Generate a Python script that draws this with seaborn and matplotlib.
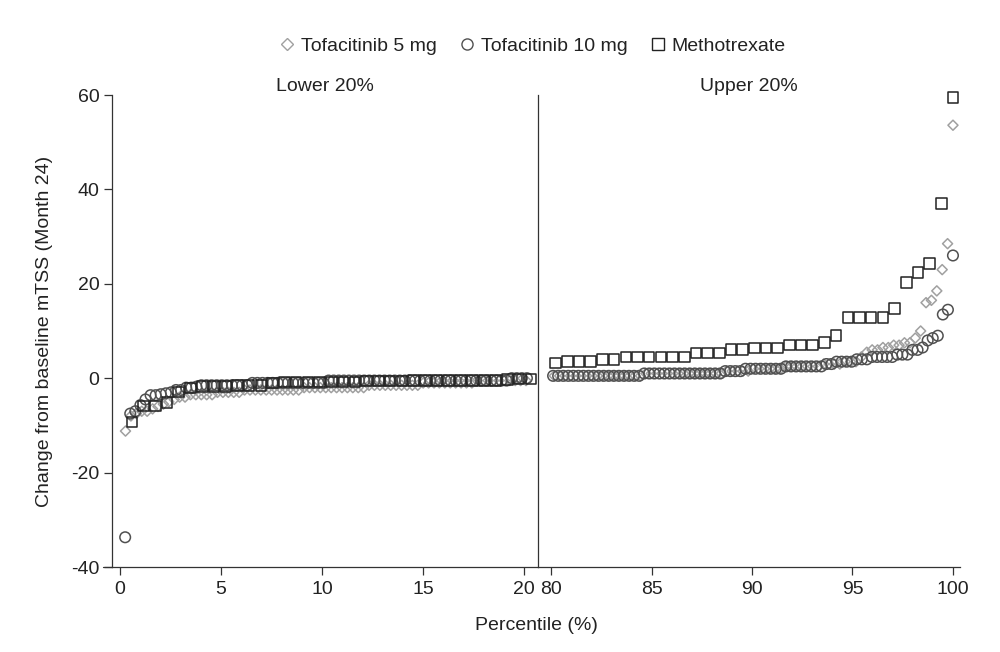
import matplotlib
matplotlib.use("Agg")
import matplotlib.pyplot as plt
import seaborn as sns
import pandas as pd
from matplotlib.lines import Line2D

# ---------------- data ----------------
groups = ["Tofacitinib 5 mg", "Tofacitinib 10 mg", "Methotrexate"]
group_n = [373, 397, 172]          # patients per group (percentile rank base)

lower_tofa5 = [-11.2, -8.0, -7.5, -7.0, -7.0, -6.5, -6.0, -5.5, -5.0, -4.5, -4.0, -4.0,
               -3.5, -3.5, -3.5, -3.5, -3.5, -3.0, -3.0, -3.0, -3.0, -3.0,
               -2.5, -2.5, -2.5, -2.5, -2.5, -2.5, -2.5, -2.5, -2.5, -2.5, -2.5,
               -2.0, -2.0, -2.0, -2.0, -2.0, -2.0, -2.0, -2.0, -2.0, -2.0, -2.0, -2.0,
               -1.5, -1.5, -1.5, -1.5, -1.5, -1.5, -1.5, -1.5, -1.5, -1.5,
               -1.0, -1.0, -1.0, -1.0, -1.0, -1.0, -1.0, -1.0, -1.0, -1.0,
               -0.5, -0.5, -0.5, -0.5, -0.5, -0.5, -0.5, -0.5, -0.5, -0.5]
upper_tofa5 = [0.5, 0.5, 0.5, 0.5, 0.5, 0.5, 0.5, 0.5, 0.5, 0.5, 0.5, 0.5, 0.5, 0.5, 0.5, 0.5, 0.5,
               1.0, 1.0, 1.0, 1.0, 1.0, 1.0, 1.0, 1.0, 1.0, 1.0, 1.0, 1.0, 1.0, 1.0, 1.0,
               1.5, 1.5, 1.5, 1.5, 1.5,
               2.0, 2.0, 2.0, 2.0, 2.0, 2.0,
               2.5, 2.5, 2.5, 2.5, 2.5, 2.5, 2.5,
               3.0, 3.0, 3.0, 3.0,
               3.5, 3.5, 3.5, 4.5,
               5.5, 6.0, 6.0, 6.5, 6.5, 7.0, 7.0, 7.5, 7.5, 8.5, 10.0,
               16.0, 16.5, 18.5, 23.0, 28.5, 53.6]

lower_tofa10 = [-33.7, -7.5, -7.0, -5.7, -4.5, -3.6, -3.6, -3.4, -3.2, -3.0, -2.5, -2.5, -2.0, -2.0, -1.8,
                -1.5, -1.5, -1.5, -1.5, -1.5, -1.5, -1.5, -1.5, -1.5, -1.5,
                -1.0, -1.0, -1.0, -1.0, -1.0, -1.0, -1.0, -1.0, -1.0, -1.0, -1.0, -1.0, -1.0, -1.0, -1.0,
                -0.5, -0.5, -0.5, -0.5, -0.5, -0.5, -0.5, -0.5, -0.5, -0.5, -0.5, -0.5,
                -0.5, -0.5, -0.5, -0.5, -0.5, -0.5, -0.5, -0.5, -0.5, -0.5, -0.5, -0.5,
                -0.5, -0.5, -0.5, -0.5, -0.5, -0.5, -0.5, -0.5, -0.5, -0.5, -0.5, -0.5,
                0.0, 0.0, 0.0, 0.0]
upper_tofa10 = [0.5, 0.5, 0.5, 0.5, 0.5, 0.5, 0.5, 0.5, 0.5, 0.5, 0.5, 0.5, 0.5, 0.5, 0.5, 0.5, 0.5, 0.5,
                1.0, 1.0, 1.0, 1.0, 1.0, 1.0, 1.0, 1.0, 1.0, 1.0, 1.0, 1.0, 1.0, 1.0, 1.0, 1.0,
                1.5, 1.5, 1.5, 1.5,
                2.0, 2.0, 2.0, 2.0, 2.0, 2.0, 2.0, 2.0,
                2.5, 2.5, 2.5, 2.5, 2.5, 2.5, 2.5, 2.5,
                3.0, 3.0, 3.5, 3.5, 3.5, 3.5,
                4.0, 4.0, 4.0, 4.5, 4.5, 4.5, 4.5, 4.5,
                5.0, 5.0, 5.0, 6.0, 6.0, 6.5,
                8.0, 8.5, 9.0, 13.5, 14.5, 26.0]

lower_mtx = [-9.3, -5.9, -5.9, -5.1, -2.9, -2.1, -1.7, -1.7, -1.7, -1.5, -1.5, -1.5, -1.0,
             -0.8, -0.8, -0.8, -0.8, -0.8, -0.8, -0.8,
             -0.6, -0.6, -0.6, -0.6,
             -0.5, -0.5, -0.5, -0.5, -0.5, -0.5, -0.5, -0.5,
             -0.3, -0.2, -0.2]
upper_mtx = [3.2, 3.5, 3.5, 3.5, 4.0, 4.0, 4.5, 4.5, 4.5, 4.5, 4.5, 4.5,
             5.3, 5.3, 5.3, 6.1, 6.1, 6.4, 6.4, 6.4, 7.0, 7.0, 7.0, 7.6, 9.0,
             12.9, 12.9, 12.9, 12.9, 14.8, 20.3, 22.4, 24.3, 37.0, 59.5]

lower_vals = [lower_tofa5, lower_tofa10, lower_mtx]
upper_vals = [upper_tofa5, upper_tofa10, upper_mtx]

panel_titles = ["Lower 20%", "Upper 20%"]
left_ticks = [0, 5, 10, 15, 20]
right_ticks = [80, 85, 90, 95, 100]
y_ticks = [-40, -20, 0, 20, 40, 60]

# ---------------- build long table ----------------
rows = []
for g, n, lo, up in zip(groups, group_n, lower_vals, upper_vals):
    for k, v in enumerate(lo):
        rows.append((g, "lower", 100.0 * (k + 1) / n, v))
    start = n - len(up) + 1
    for k, v in enumerate(up):
        rows.append((g, "upper", 100.0 * (start + k) / n, v))
df = pd.DataFrame(rows, columns=["group", "panel", "percentile", "change"])

# ---------------- style ----------------
sns.set_theme(style="white")
plt.rcParams["font.family"] = ["Liberation Sans", "DejaVu Sans"]
plt.rcParams["axes.unicode_minus"] = False
text_col = "#222222"
spine_col = "#333333"
fs = 14

marker_map = {"Tofacitinib 5 mg": "D", "Tofacitinib 10 mg": "o", "Methotrexate": "s"}
edge_map = {"Tofacitinib 5 mg": "#a0a0a0", "Tofacitinib 10 mg": "#505050", "Methotrexate": "#222222"}
size_map = {"Tofacitinib 5 mg": 26, "Tofacitinib 10 mg": 58, "Methotrexate": 58}

fig = plt.figure(figsize=(10, 6.52), dpi=100)
bottom = 1 - 567 / 652
height = (567 - 95) / 652
axL = fig.add_axes([0.112, bottom, 0.426, height])
axR = fig.add_axes([0.538, bottom, 0.422, height])

for ax, panel in [(axL, "lower"), (axR, "upper")]:
    sub = df[df["panel"] == panel]
    for g in groups:
        d = sub[sub["group"] == g]
        sns.scatterplot(data=d, x="percentile", y="change", ax=ax,
                        marker=marker_map[g], s=size_map[g],
                        facecolors="none", edgecolors=edge_map[g],
                        linewidths=1.1, legend=False, zorder=3, clip_on=False)
    ax.set_ylim(-40, 60)
    ax.set_xlabel("")
    ax.set_ylabel("")
    for side in ["top", "right"]:
        ax.spines[side].set_visible(False)
    for side in ["left", "bottom"]:
        ax.spines[side].set_color(spine_col)
        ax.spines[side].set_linewidth(0.9)
    ax.tick_params(axis="x", direction="out", length=6, width=0.9, color=spine_col,
                   labelsize=fs, labelcolor=text_col, pad=4, bottom=True)

axL.set_xlim(-0.4, 20.7)
axL.set_xticks(left_ticks)
axL.set_yticks(y_ticks)
axL.tick_params(axis="y", direction="out", length=6, width=0.9, color=spine_col,
                labelsize=fs, labelcolor=text_col, pad=3, left=True)
axR.set_xlim(79.35, 100.35)
axR.set_xticks(right_ticks)
axR.set_yticks(y_ticks)
axR.tick_params(axis="y", left=False, labelleft=False)

for ax, t in zip([axL, axR], panel_titles):
    ax.set_title(t, fontsize=fs, color=text_col, pad=3)

axL.set_ylabel("Change from baseline mTSS (Month 24)", fontsize=fs, color=text_col, labelpad=13)
fig.text(0.536, 1 - 625 / 652, "Percentile (%)", ha="center", va="center",
         fontsize=fs, color=text_col)

# small extension of the baseline to the left of the y axis
fig.add_artist(Line2D([0.103, 0.112], [bottom, bottom], color=spine_col, lw=0.9))

handles = [Line2D([], [], linestyle="none", marker=marker_map[g], markersize=ms,
                  markerfacecolor="none", markeredgecolor=edge_map[g], markeredgewidth=1.0)
           for g, ms in zip(groups, [6, 8, 8])]
fig.legend(handles, groups, loc="center", bbox_to_anchor=(0.533, 1 - 46 / 652), ncol=3,
           frameon=False, fontsize=fs, handlelength=0.7, handletextpad=0.35,
           columnspacing=1.2, labelcolor=text_col)

fig.savefig("out.png", dpi=100)
